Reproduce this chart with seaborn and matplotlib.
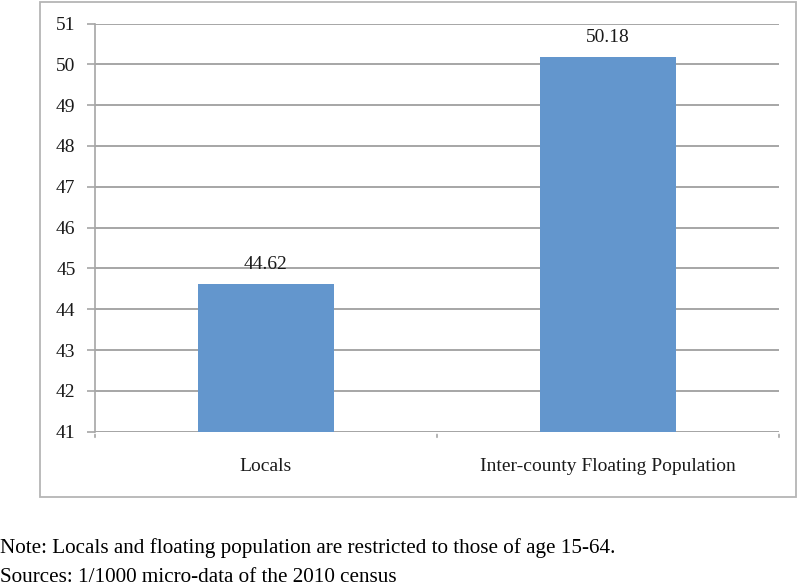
import matplotlib
matplotlib.use("Agg")
import matplotlib.pyplot as plt
import seaborn as sns
import pandas as pd
from matplotlib.patches import Rectangle

categories = ["Locals", "Inter-county Floating Population"]
values = [44.62, 50.18]
yticks = [41, 42, 43, 44, 45, 46, 47, 48, 49, 50, 51]

df = pd.DataFrame({"group": categories, "value": values})

sns.set_theme(style="white")
plt.rcParams['font.family'] = ['Liberation Serif', 'DejaVu Serif']

fig = plt.figure(figsize=(8, 5.87), dpi=100)
ax = fig.add_axes([95/800, 1-431.7/587, (779-95)/800, (431.7-23.5)/587])

grid_c = "#a6a6a6"
txt_c = "#1a1a1a"
fs = 14
sns.barplot(data=df, x="group", y="value", ax=ax, color="#6396cd",
            width=0.4, saturation=1, zorder=3)
for p in ax.patches:
    p.set_edgecolor("none")

ax.set_ylim(41, 51)
ax.set_xlim(-0.5, 1.5)
ax.set_yticks(yticks)
ax.set_yticklabels([str(t) for t in yticks], fontsize=fs, color=txt_c)
ax.yaxis.grid(True, color=grid_c, linewidth=1.4, zorder=0)
ax.set_axisbelow(True)
ax.tick_params(axis="y", length=6, width=1.2, color=grid_c, pad=8, left=True)

ax.set_xticks([0, 1])
ax.set_xticklabels(categories, fontsize=fs, color=txt_c)
ax.tick_params(axis="x", length=0, pad=19)
for xpos in [-0.5, 0.5, 1.5]:
    ax.annotate("", xy=(xpos, 41), xycoords="data", xytext=(0, -6), textcoords="offset points",
                arrowprops=dict(arrowstyle="-", color=grid_c, lw=1.2), annotation_clip=False)

ax.set_xlabel("")
ax.set_ylabel("")
for s in ["top", "right", "bottom"]:
    ax.spines[s].set_visible(False)
ax.spines["left"].set_color(grid_c)
ax.spines["left"].set_linewidth(1.2)
ax.axhline(41, color=grid_c, lw=1.4, zorder=1)

for i, v in enumerate(values):
    ax.annotate(f"{v:.2f}", xy=(i, v), xytext=(0, 8), textcoords="offset points",
                ha="center", va="bottom", fontsize=fs, color=txt_c)

fig.patches.append(Rectangle((40/800, 1-497/587), (796-40)/800, (497-2)/587,
                             transform=fig.transFigure, fill=False,
                             edgecolor="#b5b5b5", linewidth=1.3))

fig.text(0.0, 1-548/587, "Note: Locals and floating population are restricted to those of age 15-64.",
         family="Liberation Serif", fontsize=15.2, va="center", ha="left", color="black")
fig.text(0.0, 1-578/587, "Sources: 1/1000 micro-data of the 2010 census",
         family="Liberation Serif", fontsize=15.2, va="center", ha="left", color="black")

fig.savefig("out.png", dpi=100)
